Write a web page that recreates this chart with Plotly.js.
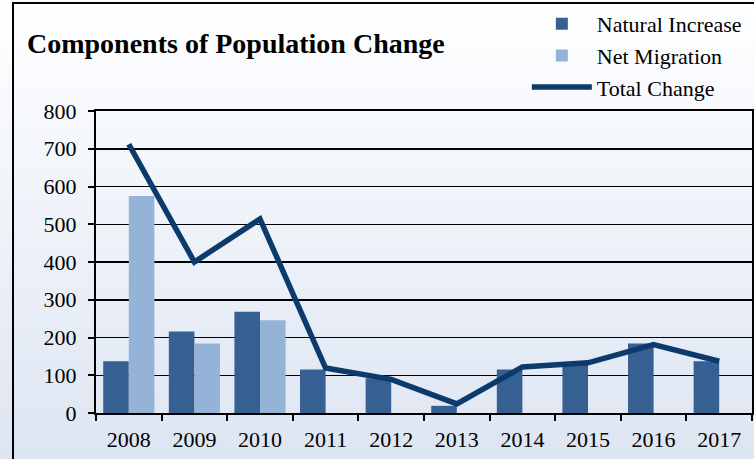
<!DOCTYPE html>
<html>
<head>
<meta charset="utf-8">
<script src="https://cdn.plot.ly/plotly-3.0.1.min.js"></script>
<style>
  html, body { margin: 0; padding: 0; background: #ffffff; }
  #wrap { position: relative; width: 754px; height: 459px; overflow: hidden;
          background: linear-gradient(to bottom, #ffffff 0%, #f3f6fb 35%, #dde5f2 100%); }
  #frame { position: absolute; left: 12px; top: 2px; width: 800px; height: 500px;
           border-left: 2.5px solid #000; border-top: 2.5px solid #000; box-sizing: border-box; }
  #chart { position: absolute; left: 0; top: 0; width: 754px; height: 459px; }
</style>
</head>
<body>
<div id="wrap">
  <div id="frame"></div>
  <div id="chart"></div>
</div>
<script>
const years = ['2008', '2009', '2010', '2011', '2012', '2013', '2014', '2015', '2016', '2017'];
const naturalIncrease = [137, 216, 268, 115, 92, 19, 115, 127, 184, 137];
const netMigration = [575, 184, 246, 0, -3, 0, 0, 0, -3, 0];
const totalChange = [712, 400, 514, 119, 89, 24, 122, 133, 181, 137];
const yTicks = [0, 100, 200, 300, 400, 500, 600, 700, 800];

const serif = 'Liberation Serif, Times New Roman, serif';

const traces = [
  { type: 'bar', name: 'Natural Increase', x: years, y: naturalIncrease,
    marker: { color: '#376092' }, legendgroup: 'a' },
  { type: 'bar', name: 'Net Migration', x: years, y: netMigration,
    marker: { color: '#95b3d7' }, legendgroup: 'b' },
  { type: 'scatter', mode: 'lines', name: 'Total Change', x: years, y: totalChange,
    line: { color: '#0c3a6b', width: 5.5 }, legendgroup: 'c' }
];

const layout = {
  width: 754, height: 459,
  margin: { l: 96, r: 2, t: 111, b: 46, autoexpand: false },
  paper_bgcolor: 'rgba(0,0,0,0)',
  plot_bgcolor: 'rgba(0,0,0,0)',
  font: { family: serif, color: '#000', size: 22 },
  title: {
    text: '<b>Components of Population Change</b>',
    font: { family: serif, size: 28, color: '#000' },
    xref: 'container', yref: 'container',
    x: 27 / 754, xanchor: 'left',
    y: 1 - 43 / 459, yanchor: 'middle'
  },
  barmode: 'group',
  bargap: 0.22,
  bargroupgap: 0,
  showlegend: true,
  legend: {
    xref: 'container', yref: 'container',
    x: 0.9905, xanchor: 'right', y: 1 - 3 / 459, yanchor: 'top',
    bgcolor: 'rgba(0,0,0,0)',
    font: { family: serif, size: 22, color: '#000' },
    traceorder: 'normal',
    tracegroupgap: 6,
    itemwidth: 60
  },
  xaxis: {
    type: 'category',
    tickvals: years,
    ticktext: years,
    tickangle: 0,
    showline: true, linecolor: '#000', linewidth: 2, mirror: true,
    ticks: 'outside', tickson: 'boundaries', ticklen: 6, tickwidth: 2, tickcolor: '#000',
    ticklabelstandoff: 6,
    showgrid: false,
    tickfont: { family: serif, size: 22, color: '#000' },
    fixedrange: true
  },
  yaxis: {
    range: [0, 800],
    tickvals: yTicks,
    showline: true, linecolor: '#000', linewidth: 2, mirror: true,
    ticks: 'outside', ticklen: 6, tickwidth: 2, tickcolor: '#000',
    ticklabelstandoff: 7,
    showgrid: true, gridcolor: '#000', gridwidth: 1.5,
    zeroline: false,
    tickfont: { family: serif, size: 22, color: '#000' },
    fixedrange: true
  }
};

Plotly.newPlot('chart', traces, layout, { displayModeBar: false, staticPlot: true });
</script>
</body>
</html>
